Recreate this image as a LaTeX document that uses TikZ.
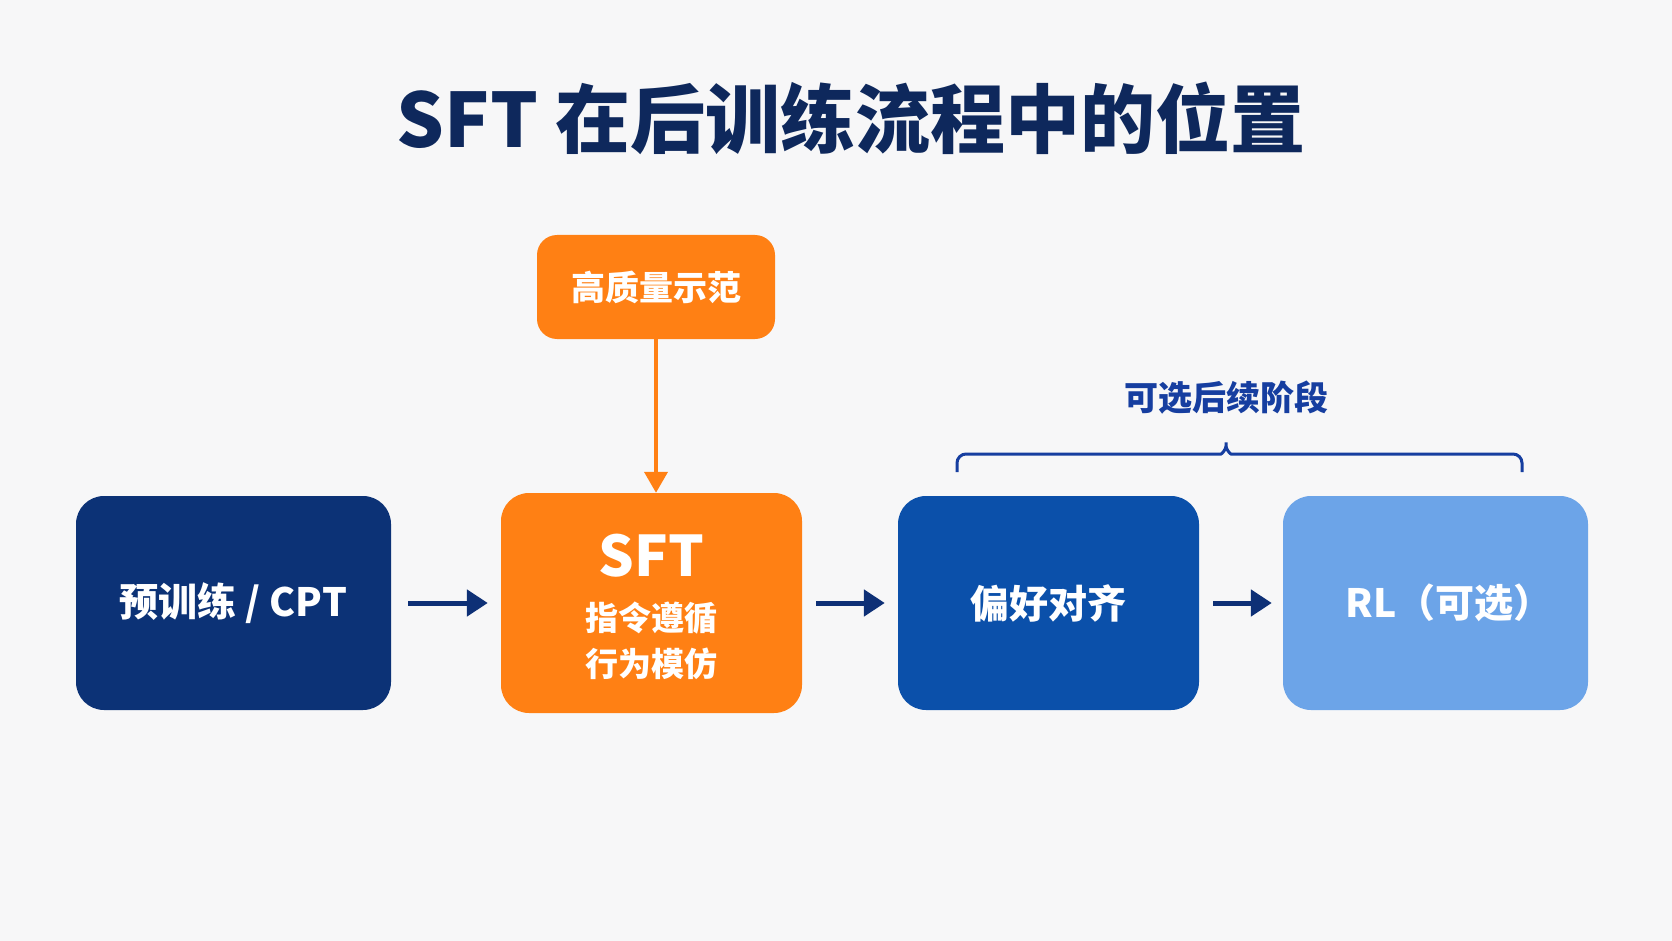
\documentclass[tikz,border=0pt]{standalone}
\usepackage{fontspec}
\setmainfont{Noto Sans CJK SC}
\usetikzlibrary{arrows.meta}
\definecolor{bg}{RGB}{247,247,248}
\definecolor{navyone}{RGB}{12,50,118}
\definecolor{bluethree}{RGB}{11,80,170}
\definecolor{bluefour}{RGB}{108,164,232}
\definecolor{orangec}{RGB}{255,128,20}
\definecolor{titlec}{RGB}{14,40,92}
\definecolor{arrowc}{RGB}{14,48,118}
\definecolor{bracec}{RGB}{22,62,160}
\begin{document}
\begin{tikzpicture}[x=1pt,y=-1pt,
  stagebox/.style={rounded corners=28pt, minimum height=214pt, inner sep=0pt, text=white,
    font=\bfseries\fontsize{39}{46}\selectfont},
  boxtext/.style={inner sep=0pt, text=white},
  flowarrow/.style={draw=arrowc, line width=5pt, -{Triangle[length=21pt,width=26pt]},
    shorten <=14pt, shorten >=13pt},
]
\fill[bg] (0,0) rectangle (1672,941);
\useasboundingbox (0,0) rectangle (1672,941);

% title
\node[inner sep=0pt, text=titlec, font=\bfseries\fontsize{75}{90}\selectfont] (title) at (851,118) {SFT 在后训练流程中的位置};

% boxes
\node[stagebox, fill=navyone, minimum width=315pt] (pre) at (233.5,603) {预训练 / CPT};
\node[stagebox, fill=orangec, minimum width=301pt, minimum height=220pt] (sft) at (651.5,603) {};
\node[stagebox, fill=bluethree, minimum width=301pt] (pref) at (1048.5,603) {偏好对齐};
\node[stagebox, fill=bluefour, minimum width=305pt] (rl) at (1435.5,603) {};

\node[boxtext, font=\bfseries\fontsize{39}{46}\selectfont] (rlt) at (1449,603) {RL（可选）};
\node[boxtext, font=\bfseries\fontsize{56}{60}\selectfont] (sftt) at (651.5,556) {SFT};
\node[boxtext, font=\bfseries\fontsize{33}{38}\selectfont] (sftl1) at (651.5,618) {指令遵循};
\node[boxtext, font=\bfseries\fontsize{33}{38}\selectfont] (sftl2) at (651.5,664) {行为模仿};

% top box
\node[rounded corners=20pt, fill=orangec, minimum width=238pt, minimum height=104pt, inner sep=0pt,
  text=white, font=\bfseries\fontsize{34}{40}\selectfont] (demo) at (656,287) {高质量示范};

% arrows
\draw[flowarrow, shorten <=17pt] (pre.east) -- (sft.west);
\draw[flowarrow] (sft.east) -- (pref.west);
\draw[flowarrow, shorten >=11pt] (pref.east) -- (rl.west);
\draw[draw=orangec, line width=4pt, -{Triangle[length=21pt,width=23pt]}] (demo.south) -- (demo.south |- sft.north);

% brace and label
\draw[bracec, line width=3pt, rounded corners=9pt]
  (957,472) -- (957,454) -- (1212,454)
  .. controls (1222,454) and (1226,449) .. (1226,437)
  .. controls (1226,449) and (1230,454) .. (1240,454)
  -- (1522,454) -- (1522,472);
\node[inner sep=0pt, text=bracec, font=\bfseries\fontsize{34}{40}\selectfont] (optlabel) at (1226,398) {可选后续阶段};
\end{tikzpicture}
\end{document}
